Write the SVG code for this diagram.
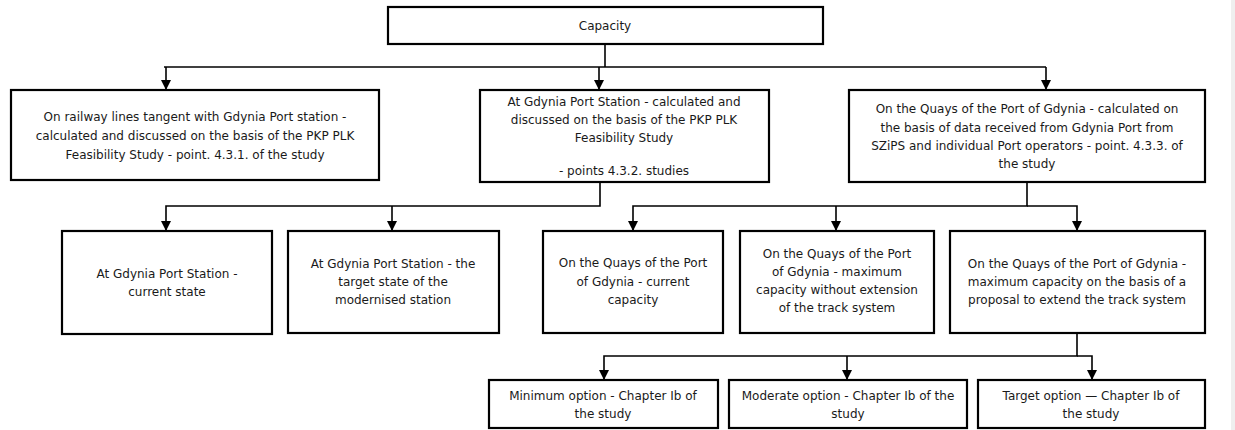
<svg xmlns="http://www.w3.org/2000/svg" width="1235" height="430" viewBox="0 0 1235 430">
<style>
.box{fill:#fff;stroke:#000;stroke-width:2.2}
.t{font-family:"DejaVu Sans","Liberation Sans",sans-serif;font-size:12px;fill:#1a1a1a;text-anchor:middle}
.c{fill:none;stroke:#000;stroke-width:1.6}
</style>
<defs>
<marker id="dn" markerUnits="userSpaceOnUse" markerWidth="10" markerHeight="10" viewBox="0 0 10 10" refX="5" refY="10" orient="0">
<path d="M0,0 L10,0 L5,10 Z" fill="#000"/>
</marker>
</defs>
<rect x="1231" y="0" width="4" height="430" fill="#efefef"/>
<g id="connectors">
<path class="c" d="M605,44 V67"/>
<path class="c" d="M164,67 H1046"/>
<path class="c" d="M166,67 V90" marker-end="url(#dn)"/>
<path class="c" d="M599,67 V90" marker-end="url(#dn)"/>
<path class="c" d="M1046,67 V90" marker-end="url(#dn)"/>
<path class="c" d="M600,182 V206 H166 V231" marker-end="url(#dn)"/>
<path class="c" d="M392,206 V231" marker-end="url(#dn)"/>
<path class="c" d="M1027,182 V206 H633 V231" marker-end="url(#dn)"/>
<path class="c" d="M836,206 V231" marker-end="url(#dn)"/>
<path class="c" d="M1027,206 H1077 V231" marker-end="url(#dn)"/>
<path class="c" d="M1077,333 V356 H604 V380" marker-end="url(#dn)"/>
<path class="c" d="M847,356 V380" marker-end="url(#dn)"/>
<path class="c" d="M1077,356 H1092 V380" marker-end="url(#dn)"/>
</g>
<g id="n-capacity">
<rect class="box" x="388" y="7" width="435" height="37"/>
<text class="t" x="605" y="30">Capacity</text>
</g>
<g id="n-lines">
<rect class="box" x="11" y="90" width="368" height="90"/>
<text class="t" x="195" y="121">On railway lines tangent with Gdynia Port station -</text>
<text class="t" x="195" y="140">calculated and discussed on the basis of the PKP PLK</text>
<text class="t" x="195" y="159">Feasibility Study - point. 4.3.1. of the study</text>
</g>
<g id="n-station">
<rect class="box" x="480" y="90" width="289" height="92"/>
<text class="t" x="624" y="106">At Gdynia Port Station - calculated and</text>
<text class="t" x="624" y="124">discussed on the basis of the PKP PLK</text>
<text class="t" x="624" y="142">Feasibility Study</text>
<text class="t" x="624" y="175">- points 4.3.2. studies</text>
</g>
<g id="n-quays">
<rect class="box" x="849" y="90" width="356" height="92"/>
<text class="t" x="1027" y="113">On the Quays of the Port of Gdynia - calculated on</text>
<text class="t" x="1027" y="132">the basis of data received from Gdynia Port from</text>
<text class="t" x="1027" y="150">SZiPS and individual Port operators - point. 4.3.3. of</text>
<text class="t" x="1027" y="168">the study</text>
</g>
<g id="n-st-current">
<rect class="box" x="62" y="231" width="210" height="103"/>
<text class="t" x="167" y="278">At Gdynia Port Station -</text>
<text class="t" x="167" y="296">current state</text>
</g>
<g id="n-st-target">
<rect class="box" x="288" y="231" width="211" height="102"/>
<text class="t" x="393" y="268">At Gdynia Port Station - the</text>
<text class="t" x="393" y="286">target state of the</text>
<text class="t" x="393" y="304">modernised station</text>
</g>
<g id="n-q-current">
<rect class="box" x="543" y="231" width="180" height="102"/>
<text class="t" x="633" y="267">On the Quays of the Port</text>
<text class="t" x="633" y="286">of Gdynia - current</text>
<text class="t" x="633" y="304">capacity</text>
</g>
<g id="n-q-max">
<rect class="box" x="740" y="231" width="194" height="102"/>
<text class="t" x="837" y="258">On the Quays of the Port</text>
<text class="t" x="837" y="276">of Gdynia - maximum</text>
<text class="t" x="837" y="294">capacity without extension</text>
<text class="t" x="837" y="312">of the track system</text>
</g>
<g id="n-q-proposal">
<rect class="box" x="950" y="231" width="255" height="102"/>
<text class="t" x="1077" y="268">On the Quays  of the Port of Gdynia -</text>
<text class="t" x="1077" y="286">maximum capacity on the basis of a</text>
<text class="t" x="1077" y="304">proposal to extend the track system</text>
</g>
<g id="n-min">
<rect class="box" x="489" y="380" width="229" height="48"/>
<text class="t" x="603" y="400">Minimum option - Chapter Ib of</text>
<text class="t" x="603" y="418">the study</text>
</g>
<g id="n-mod">
<rect class="box" x="729" y="380" width="238" height="48"/>
<text class="t" x="848" y="400">Moderate option - Chapter Ib of the</text>
<text class="t" x="848" y="418">study</text>
</g>
<g id="n-target">
<rect class="box" x="978" y="380" width="227" height="48"/>
<text class="t" x="1091" y="400">Target option — Chapter Ib of</text>
<text class="t" x="1091" y="418">the study</text>
</g>
</svg>
